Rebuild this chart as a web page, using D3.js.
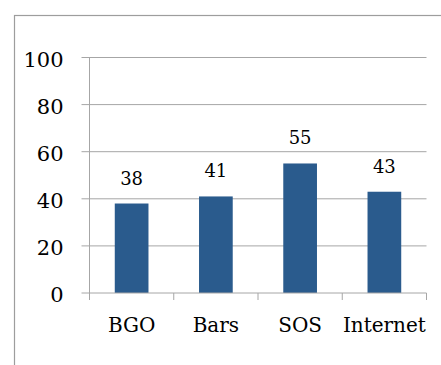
<!DOCTYPE html>
<html>
<head>
<meta charset="utf-8">
<script src="https://cdn.jsdelivr.net/npm/d3@7"></script>
<style>
  html, body { margin: 0; padding: 0; background: #fff; }
  svg { display: block; }
  text { font-family: "DejaVu Serif", serif; fill: #000; }
</style>
</head>
<body>
<svg id="chart" width="441" height="365"></svg>
<script>
const categories = ["BGO", "Bars", "SOS", "Internet"];
const values = [38, 41, 55, 43];
const yTicks = [0, 20, 40, 60, 80, 100];

const svg = d3.select("#chart");
const plot = { left: 89.5, right: 426.5, top: 57.5, bottom: 293 };

// outer chart frame (extends beyond the visible area on right and bottom)
svg.append("rect")
  .attr("x", 14.5).attr("y", 15.5)
  .attr("width", 500).attr("height", 500)
  .attr("fill", "none").attr("stroke", "#9d9d9d").attr("stroke-width", 1.2);

const x = d3.scaleBand().domain(categories).range([plot.left, plot.right]).padding(0);
const y = d3.scaleLinear().domain([0, 100]).range([plot.bottom, plot.top]);

// horizontal gridlines with short ticks left of the axis
svg.append("g").selectAll("line").data(yTicks.filter(d => d > 0)).join("line")
  .attr("x1", plot.left - 8).attr("x2", plot.right)
  .attr("y1", d => y(d)).attr("y2", d => y(d))
  .attr("stroke", "#a6a6a6").attr("stroke-width", 1);

// y axis labels
svg.append("g").selectAll("text").data(yTicks).join("text")
  .attr("x", 63.5).attr("y", d => y(d) + 2)
  .attr("text-anchor", "end").attr("dominant-baseline", "central")
  .attr("font-size", 21)
  .text(d => d);

// bars
const barW = x.bandwidth() * 0.4;
svg.append("g").selectAll("rect").data(values).join("rect")
  .attr("x", (d, i) => x(categories[i]) + (x.bandwidth() - barW) / 2)
  .attr("y", d => y(d))
  .attr("width", barW)
  .attr("height", d => y(0) - y(d))
  .attr("fill", "#2a5b8d");

// value labels above bars
svg.append("g").selectAll("text").data(values).join("text")
  .attr("x", (d, i) => x(categories[i]) + x.bandwidth() / 2)
  .attr("y", d => y(d) - 19)
  .attr("text-anchor", "middle")
  .attr("font-size", 18)
  .text(d => d);

// y axis line
svg.append("line")
  .attr("x1", plot.left).attr("x2", plot.left)
  .attr("y1", plot.top).attr("y2", plot.bottom + 6)
  .attr("stroke", "#a6a6a6").attr("stroke-width", 1);

// x axis line and tick marks at category boundaries
svg.append("line")
  .attr("x1", plot.left - 8).attr("x2", plot.right)
  .attr("y1", plot.bottom).attr("y2", plot.bottom)
  .attr("stroke", "#a6a6a6").attr("stroke-width", 1);
const bounds = categories.map(c => x(c)).concat([x(categories[categories.length - 1]) + x.bandwidth()]);
svg.append("g").selectAll("line").data(bounds).join("line")
  .attr("x1", d => d).attr("x2", d => d)
  .attr("y1", plot.bottom).attr("y2", plot.bottom + 7)
  .attr("stroke", "#a6a6a6").attr("stroke-width", 1);

// category labels
svg.append("g").selectAll("text").data(categories).join("text")
  .attr("x", d => x(d) + x.bandwidth() / 2)
  .attr("y", 331.5)
  .attr("text-anchor", "middle")
  .attr("font-size", 20)
  .text(d => d);
</script>
</body>
</html>
